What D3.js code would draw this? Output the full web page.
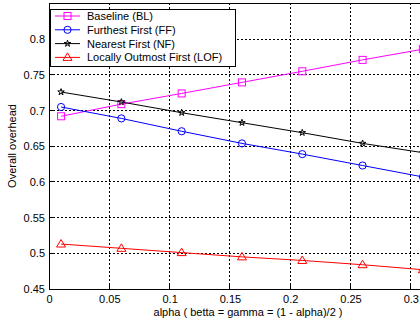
<!DOCTYPE html>
<html>
<head>
<meta charset="utf-8">
<script src="https://cdn.jsdelivr.net/npm/d3@7"></script>
<style>
  body { margin: 0; background: #fff; }
  svg text { font-family: "Liberation Sans", Arial, sans-serif; fill: #000; }
</style>
</head>
<body>
<div id="chart"><svg></svg></div>
<script>
// data
const alphas = [0.01, 0.06, 0.11, 0.16, 0.21, 0.26, 0.31]
const baseline = [0.692, 0.709, 0.724, 0.7395, 0.755, 0.771, 0.786]
const furthest = [0.705, 0.689, 0.671, 0.654, 0.639, 0.623, 0.607]
const nearest = [0.726, 0.712, 0.697, 0.683, 0.669, 0.654, 0.641]
const outmost = [0.513, 0.507, 0.501, 0.495, 0.490, 0.484, 0.477]
const seriesNames = ['Baseline (BL)', 'Furthest First (FF)', 'Nearest First (NF)', 'Locally Outmost First (LOF)']
const xTicks = [0, 0.05, 0.1, 0.15, 0.2, 0.25, 0.3]
const yTicks = [0.45, 0.5, 0.55, 0.6, 0.65, 0.7, 0.75, 0.8]

const W = 420, H = 324
const svg = d3.select('#chart svg').attr('width', W).attr('height', H)

const x = d3.scaleLinear().domain([0, 0.33]).range([49, 447])
const y = d3.scaleLinear().domain([0.45, 0.85]).range([289, 3.5])

const series = [
  { name: seriesNames[0], values: baseline, color: '#ff00ff', marker: 'square' },
  { name: seriesNames[1], values: furthest, color: '#0000ff', marker: 'circle' },
  { name: seriesNames[2], values: nearest, color: '#000000', marker: 'star' },
  { name: seriesNames[3], values: outmost, color: '#ff0000', marker: 'triangle' }
]

// grid
const grid = svg.append('g').attr('class', 'grid')
grid.selectAll('.vg').data(xTicks.slice(1)).enter().append('line')
  .attr('x1', d => x(d)).attr('x2', d => x(d))
  .attr('y1', y(0.45)).attr('y2', y(0.85))
  .attr('stroke', '#000').attr('stroke-width', 1).attr('stroke-dasharray', '2,2')
  .attr('shape-rendering', 'crispEdges')
grid.selectAll('.hg').data(yTicks.slice(1)).enter().append('line')
  .attr('x1', x(0)).attr('x2', W)
  .attr('y1', d => y(d)).attr('y2', d => y(d))
  .attr('stroke', '#000').attr('stroke-width', 1).attr('stroke-dasharray', '2,2')
  .attr('shape-rendering', 'crispEdges')

// axes
const xAxis = svg.append('g')
  .attr('transform', 'translate(0,' + y(0.45) + ')')
  .call(d3.axisBottom(x).tickValues(xTicks).tickSize(0).tickPadding(6).tickFormat(d3.format('')))
xAxis.select('.domain').attr('stroke', '#000').attr('shape-rendering', 'crispEdges')
xAxis.selectAll('text').attr('font-size', '11px')
  .attr('font-family', '"Liberation Sans", Arial, sans-serif').attr('fill', '#000')

const yAxis = svg.append('g')
  .attr('transform', 'translate(' + x(0) + ',0)')
  .call(d3.axisLeft(y).tickValues(yTicks).tickSize(0).tickPadding(4).tickFormat(d3.format('')))
yAxis.select('.domain').attr('stroke', '#000').attr('shape-rendering', 'crispEdges')
yAxis.selectAll('text').attr('font-size', '11px')
  .attr('font-family', '"Liberation Sans", Arial, sans-serif').attr('fill', '#000')

// top border
svg.append('line')
  .attr('x1', x(0)).attr('x2', W).attr('y1', y(0.85)).attr('y2', y(0.85))
  .attr('stroke', '#000').attr('shape-rendering', 'crispEdges')

// inward ticks
svg.append('g').selectAll('line').data(xTicks).enter().append('line')
  .attr('x1', d => x(d)).attr('x2', d => x(d))
  .attr('y1', y(0.45)).attr('y2', y(0.45) - 4)
  .attr('stroke', '#000').attr('shape-rendering', 'crispEdges')
svg.append('g').selectAll('line').data(yTicks).enter().append('line')
  .attr('x1', x(0)).attr('x2', x(0) + 4)
  .attr('y1', d => y(d)).attr('y2', d => y(d))
  .attr('stroke', '#000').attr('shape-rendering', 'crispEdges')

function drawMarker(g, type, cx, cy, color) {
  if (type === 'square') {
    g.append('rect').attr('x', cx - 3.5).attr('y', cy - 3.5).attr('width', 7).attr('height', 7)
      .attr('fill', 'none').attr('stroke', color)
  } else if (type === 'circle') {
    g.append('circle').attr('cx', cx).attr('cy', cy).attr('r', 3.6)
      .attr('fill', 'none').attr('stroke', color)
  } else if (type === 'star') {
    g.append('path').attr('d', d3.symbol(d3.symbolStar, 13)())
      .attr('transform', 'translate(' + cx + ',' + cy + ')')
      .attr('fill', 'none').attr('stroke', color)
  } else {
    g.append('path').attr('d', 'M0,-4.5L4.5,3L-4.5,3Z')
      .attr('transform', 'translate(' + cx + ',' + cy + ')')
      .attr('fill', 'none').attr('stroke', color)
  }
}

const line = d3.line().x(d => x(d[0])).y(d => y(d[1]))

series.forEach(s => {
  const pts = alphas.map((a, i) => [a, s.values[i]])
  const g = svg.append('g')
  g.append('path').datum(pts).attr('d', line)
    .attr('fill', 'none').attr('stroke', s.color).attr('stroke-width', 1)
  pts.forEach(p => drawMarker(g, s.marker, x(p[0]), y(p[1]), s.color))
})

// axis labels
svg.append('text')
  .attr('x', 248).attr('y', 316)
  .attr('text-anchor', 'middle').attr('font-size', '11px')
  .text('alpha ( betta = gamma = (1 - alpha)/2 )')

svg.append('text')
  .attr('transform', 'translate(16,146) rotate(-90)')
  .attr('text-anchor', 'middle').attr('font-size', '11px')
  .text('Overall overhead')

// legend
const legend = svg.append('g')
legend.append('rect')
  .attr('x', 50.5).attr('y', 9.5).attr('width', 185).attr('height', 57)
  .attr('fill', '#fff').attr('stroke', '#000')
series.forEach((s, i) => {
  const ly = 16 + i * 13.8
  const row = legend.append('g')
  row.append('line').attr('x1', 55).attr('x2', 80).attr('y1', ly).attr('y2', ly)
    .attr('stroke', s.color)
  drawMarker(row, s.marker, 67.5, ly, s.color)
  row.append('text').attr('x', 87).attr('y', ly + 4).attr('font-size', '11px').text(s.name)
})
</script>
</body>
</html>
